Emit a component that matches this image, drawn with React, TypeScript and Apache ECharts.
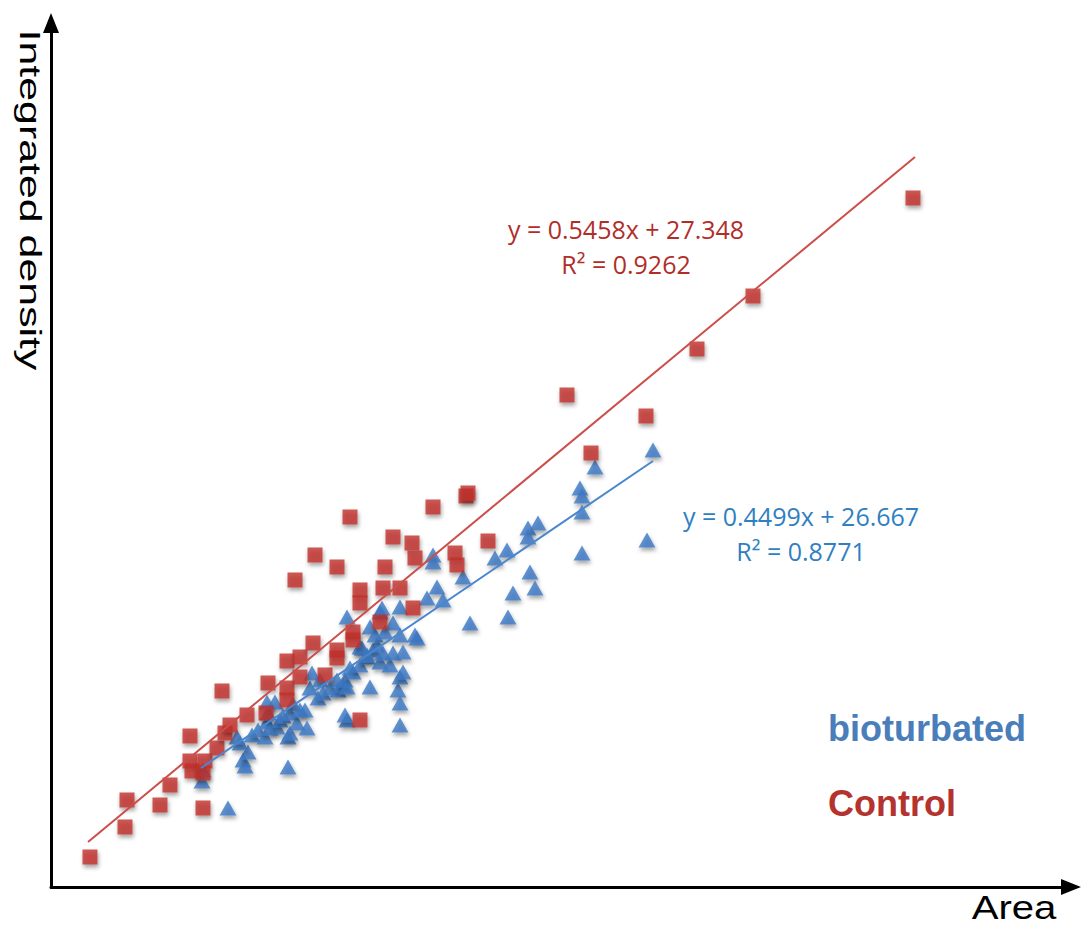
import React, { useEffect, useRef } from "react";
import * as echarts from "echarts";

// Control (red squares): [area, integrated density]
const controlPoints: [number, number][] = [
  [58.5, 30], [111, 60], [114, 87], [163.5, 82], [178.5, 102], [228, 79],
  [208.5, 151], [208.5, 126], [211.5, 116], [231, 126], [228, 114], [249, 139],
  [261, 154], [268.5, 162], [256.5, 196], [294, 172], [322.5, 174], [325.5, 204],
  [354, 226], [354, 199], [354, 187], [373.5, 230], [373.5, 210], [393, 244],
  [411, 212], [429, 237], [429, 229], [453, 255], [453, 247], [463.5, 167],
  [493.5, 265], [498, 299], [523.5, 299], [543, 279], [463.5, 297], [463.5, 284],
  [501, 320], [513, 350], [541.5, 344], [546, 329], [366, 307], [396, 332],
  [429, 320], [448.5, 370], [573, 380], [622.5, 391], [625.5, 394], [606, 334],
  [609, 322], [655.5, 346], [774, 492], [892.5, 471], [810, 434], [969, 538],
  [1053, 591], [1293, 689]
];

// bioturbated (blue triangles): [area, integrated density]
const bioturbatedPoints: [number, number][] = [
  [228, 117], [226.5, 106], [265.5, 79], [288, 127], [291, 121], [295.5, 135],
  [283.5, 144], [279, 150], [301.5, 152], [310.5, 157], [321, 150], [324, 165],
  [328.5, 159], [325.5, 174], [324, 185], [336, 185], [339, 160], [343.5, 167],
  [348, 171], [355.5, 150], [358.5, 154], [355.5, 120], [358.5, 174], [363, 183],
  [369, 164], [373.5, 177], [381, 177], [384, 159], [388.5, 199], [391.5, 214],
  [400.5, 189], [403.5, 207], [408, 194], [418.5, 199], [429, 207], [430.5, 197],
  [438, 202], [441, 207], [444, 200], [444, 167], [441, 172], [448.5, 219],
  [453, 215], [463.5, 222], [466.5, 239], [474, 230], [478.5, 200], [483, 237],
  [489, 242], [493.5, 225], [498, 234], [508.5, 222], [513, 234], [520.5, 197],
  [523.5, 210], [523.5, 184], [523.5, 162], [444, 270], [478.5, 260], [493.5, 275],
  [496.5, 279], [513, 264], [523.5, 280], [523.5, 252], [528, 235], [546, 252],
  [549, 249], [528, 215], [564, 289], [573, 332], [573, 325], [579, 300],
  [588, 287], [618, 310], [628.5, 264], [666, 329], [684, 337], [685.5, 270],
  [693, 294], [715.5, 359], [715.5, 350], [718.5, 315], [726, 299], [730.5, 364],
  [793.5, 399], [796.5, 391], [796.5, 375], [796.5, 334], [816, 420], [894, 347],
  [903, 437], [486, 252], [501, 255], [463.5, 240], [474, 232]
];

// Linear trend lines (endpoints)
const controlTrend: [number, number][] = [[55.5, 45], [1296, 730]];
const bioturbatedTrend: [number, number][] = [[225, 119], [903, 426]];

const controlEquation = ["y = 0.5458x + 27.348", "R² = 0.9262"];
const bioturbatedEquation = ["y = 0.4499x + 26.667", "R² = 0.8771"];
const seriesNames = ["bioturbated", "Control"];
const xTitle = "Area";
const yTitle = "Integrated density";
const xRange = [0, 1530];
const yRange = [0, 864];

const RED = "#C0302B";
const BLUE = "#3B78C4";

export default function App() {
  const ref = useRef<HTMLDivElement>(null);
  useEffect(() => {
    if (!ref.current) return;
    const chart = echarts.init(ref.current, undefined, { renderer: "svg" });
    const shadow = {
      shadowBlur: 4,
      shadowColor: "rgba(0,0,0,0.45)",
      shadowOffsetX: 1,
      shadowOffsetY: 3,
    };
    chart.setOption({
      animation: false,
      backgroundColor: "#ffffff",
      grid: { left: 51, right: 12, top: 23, bottom: 39, containLabel: false },
      xAxis: {
        type: "value",
        min: xRange[0],
        max: xRange[1],
        axisLine: {
          show: true,
          onZero: false,
          symbol: ["none", "triangle"],
          symbolSize: [16, 20],
          lineStyle: { color: "#000", width: 3 },
        },
        axisTick: { show: false },
        axisLabel: { show: false },
        splitLine: { show: false },
      },
      yAxis: {
        type: "value",
        min: yRange[0],
        max: yRange[1],
        axisLine: {
          show: true,
          onZero: false,
          symbol: ["none", "triangle"],
          symbolSize: [16, 20],
          lineStyle: { color: "#000", width: 3 },
        },
        axisTick: { show: false },
        axisLabel: { show: false },
        splitLine: { show: false },
      },
      series: [
        {
          name: seriesNames[0],
          type: "scatter",
          symbol: "triangle",
          symbolSize: [17, 15],
          data: bioturbatedPoints,
          itemStyle: { color: BLUE, ...shadow },
          z: 2,
        },
        {
          name: seriesNames[1],
          type: "scatter",
          symbol: "rect",
          symbolSize: 15,
          data: controlPoints,
          itemStyle: { color: RED, ...shadow },
          z: 3,
        },
        {
          name: seriesNames[0] + " trend",
          type: "line",
          data: bioturbatedTrend,
          symbol: "none",
          lineStyle: { color: "#4A86CF", width: 2 },
          z: 4,
        },
        {
          name: seriesNames[1] + " trend",
          type: "line",
          data: controlTrend,
          symbol: "none",
          lineStyle: { color: "#CC4E4B", width: 2 },
          z: 4,
        },
      ],
      graphic: [
        {
          type: "text",
          x: 31,
          y: 200,
          rotation: -Math.PI / 2,
          scaleX: 1.43,
          style: {
            text: yTitle,
            fontFamily: "Liberation Sans, Arial, sans-serif",
            fontSize: 30,
            fill: "#000",
            align: "center",
            verticalAlign: "middle",
          },
        },
        {
          type: "text",
          x: 1014,
          y: 907,
          scaleX: 1.18,
          style: {
            text: xTitle,
            fontFamily: "Liberation Sans, Arial, sans-serif",
            fontSize: 34,
            fill: "#000",
            align: "center",
            verticalAlign: "middle",
          },
        },
        {
          type: "text",
          x: 626,
          y: 229,
          style: {
            text: controlEquation[0],
            fontFamily: "Open Sans, sans-serif",
            fontSize: 25,
            fill: "#B02E2A",
            align: "center",
            verticalAlign: "middle",
          },
        },
        {
          type: "text",
          x: 626,
          y: 264,
          style: {
            text: controlEquation[1],
            fontFamily: "Open Sans, sans-serif",
            fontSize: 25,
            fill: "#B02E2A",
            align: "center",
            verticalAlign: "middle",
          },
        },
        {
          type: "text",
          x: 801,
          y: 516,
          style: {
            text: bioturbatedEquation[0],
            fontFamily: "Open Sans, sans-serif",
            fontSize: 25,
            fill: "#2F7FC1",
            align: "center",
            verticalAlign: "middle",
          },
        },
        {
          type: "text",
          x: 801,
          y: 551,
          style: {
            text: bioturbatedEquation[1],
            fontFamily: "Open Sans, sans-serif",
            fontSize: 25,
            fill: "#2F7FC1",
            align: "center",
            verticalAlign: "middle",
          },
        },
        {
          type: "text",
          x: 828,
          y: 728,
          style: {
            text: seriesNames[0],
            fontFamily: "Liberation Sans, Arial, sans-serif",
            fontWeight: "bold",
            fontSize: 36,
            fill: "#4A7EBB",
            align: "left",
            verticalAlign: "middle",
          },
        },
        {
          type: "text",
          x: 828,
          y: 803,
          style: {
            text: seriesNames[1],
            fontFamily: "Liberation Sans, Arial, sans-serif",
            fontWeight: "bold",
            fontSize: 36,
            fill: "#B5332E",
            align: "left",
            verticalAlign: "middle",
          },
        },
      ],
    });
    return () => chart.dispose();
  }, []);
  return (
    <div
      ref={ref}
      style={{ width: 1083, height: 926, position: "absolute", left: 0, top: 0 }}
    />
  );
}
